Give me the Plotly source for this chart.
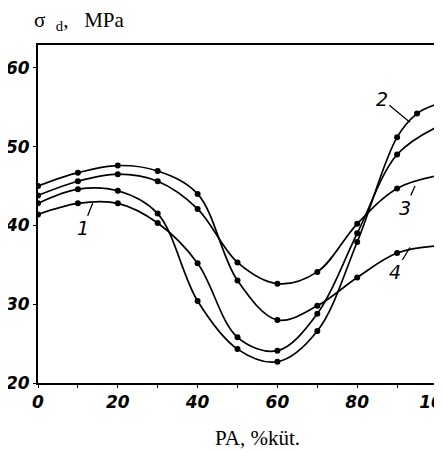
import plotly.graph_objects as go

# data (x: PA content, %; y: sigma_d, MPa)
x1 = [0, 10, 20, 30, 40, 50, 60, 70, 80, 90, 100]
y1 = [41.4, 42.8, 42.8, 40.3, 35.2, 25.8, 24.1, 28.8, 39.0, 49.0, 52.5]

x2 = [0, 10, 20, 30, 40, 50, 60, 70, 80, 90, 95, 100]
y2 = [42.8, 44.6, 44.4, 41.5, 30.4, 24.3, 22.7, 26.6, 37.9, 51.2, 54.2, 55.4]

x3 = [0, 10, 20, 30, 40, 50, 60, 70, 80, 90, 100]
y3 = [43.8, 45.6, 46.5, 45.6, 42.1, 35.3, 32.6, 34.1, 40.2, 44.7, 46.3]

x4 = [0, 10, 20, 30, 40, 50, 60, 70, 80, 90, 100]
y4 = [45.0, 46.7, 47.6, 46.9, 44.0, 33.0, 28.0, 29.8, 33.4, 36.5, 37.4]

x_ticks = [0, 20, 40, 60, 80, 100]
y_ticks = [20, 30, 40, 50, 60]

curve_labels = ["1", "2", "3", "4"]
label_x = [13.7, 93.2, 94.5, 93.2]
label_y = [42.8, 53.1, 45.0, 37.2]

series = [(x1, y1), (x2, y2), (x3, y3), (x4, y4)]

fig = go.Figure()
for xs, ys in series:
    fig.add_trace(go.Scatter(
        x=xs, y=ys, mode="lines+markers",
        line=dict(color="black", width=1.7, shape="spline", smoothing=1.0),
        marker=dict(color="black", size=6),
        showlegend=False, hoverinfo="skip"))

offsets = [(-10, 25), (-28, -23), (-10, 22), (-15, 25)]
for lab, lx, ly, (ax, ay) in zip(curve_labels, label_x, label_y, offsets):
    fig.add_annotation(x=lx, y=ly, text=lab, showarrow=True, arrowhead=0,
                       arrowwidth=1.3, arrowcolor="black", ax=ax, ay=ay,
                       font=dict(family="DejaVu Sans", size=19, color="black", style="italic"))

fig.add_annotation(xref="paper", yref="paper", x=-0.015, y=1.072,
                   xanchor="left", yanchor="middle", showarrow=False,
                   text="σ&nbsp;&nbsp;<sub>d</sub>,&nbsp;&nbsp;&nbsp;MPa",
                   font=dict(family="Liberation Serif", size=21, color="black"))
fig.add_annotation(xref="paper", yref="paper", x=0.551, y=-0.163,
                   xanchor="center", yanchor="middle", showarrow=False,
                   text="PA, %küt.",
                   font=dict(family="Liberation Serif", size=21, color="black"))

axis_common = dict(showline=True, linecolor="black", linewidth=2, mirror=True,
                   showgrid=False, zeroline=False, ticks="outside", tickcolor="black",
                   ticklabeloverflow="allow",
                   tickfont=dict(family="DejaVu Sans", size=17, color="black",
                                 style="italic", weight="bold"))
fig.update_xaxes(range=[0, 100], tickvals=x_ticks, ticklen=3,
                 minor=dict(dtick=10, ticks="outside", ticklen=3, tickcolor="black"),
                 **axis_common)
fig.update_yaxes(range=[20, 62.9], tickvals=y_ticks, ticklen=3, **axis_common)

# the page adds an 8px body margin, so the figure is 8px smaller than the window
fig.update_layout(width=434, height=444, plot_bgcolor="white", paper_bgcolor="white",
                  margin=dict(l=30, r=5, t=37, b=69, autoexpand=False))
fig.write_html("out.html")
